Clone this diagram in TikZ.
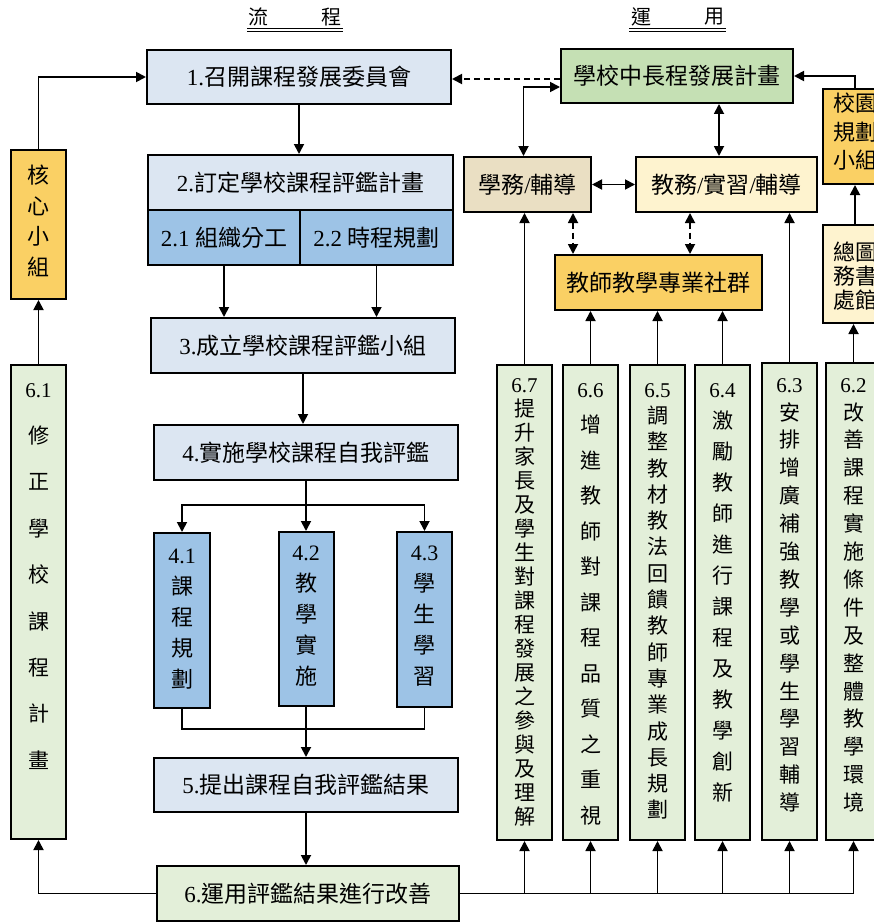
\documentclass[tikz,border=0pt]{standalone}
\usepackage{fontspec}
\setmainfont{Liberation Serif}
\newfontfamily\cjk{Noto Sans CJK TC}
\newfontfamily\dg{Liberation Serif}
\usetikzlibrary{arrows.meta}
\ExplSyntaxOn
\NewDocumentCommand\vstack{m}{
  \seq_clear:N \l_tmpa_seq
  \tl_map_inline:nn {#1} { \seq_put_right:Nn \l_tmpa_seq {##1} }
  \seq_use:Nn \l_tmpa_seq { \\ }
}
\ExplSyntaxOff
\definecolor{lblue}{HTML}{DCE6F2}
\definecolor{mblue}{HTML}{9DC3E6}
\definecolor{lgreen}{HTML}{E3EFD9}
\definecolor{dgreen}{HTML}{C5E0B4}
\definecolor{gold}{HTML}{FAD064}
\definecolor{tan}{HTML}{EADFC3}
\definecolor{cream}{HTML}{FEF3CF}
\newcommand\htext{\cjk\fontsize{23}{27}\selectfont}
\tikzset{
  box/.style={draw=black, line width=2pt, inner sep=0pt, font=\htext, align=center},
  vtext/.style={font={\cjk\fontsize{21}{#1}\selectfont\lineskiplimit=-\maxdimen}, align=center, inner sep=0pt, anchor=north},
  vtextc/.style={font={\cjk\fontsize{22}{#1}\selectfont\lineskiplimit=-\maxdimen}, align=center, inner sep=0pt},
  hdr/.style={font={\cjk\fontsize{20}{24}\selectfont}, inner sep=0pt},
  conn/.style={line width=1.8pt},
  arr/.style={line width=1.8pt, -{Triangle[length=10pt,width=10pt]}},
  darr/.style={line width=1.8pt, {Triangle[length=10pt,width=10pt]}-{Triangle[length=10pt,width=10pt]}},
  dsh/.style={dash pattern=on 6pt off 4pt}
}
\begin{document}
\begin{tikzpicture}[x=1pt,y=-1pt]
\useasboundingbox (0,0) rectangle (874,923);
\clip (0,0) rectangle (874,923);
\fill[white] (0,0) rectangle (874,923);

% headers
\node[hdr] (h1a) at (258,17) {流};
\node[hdr] (h1b) at (331,17) {程};
\draw[line width=1.5pt] (247,28.5) -- (343,28.5);
\draw[line width=0.8pt] (247,31.5) -- (343,31.5);
\node[hdr] (h2a) at (641,17) {運};
\node[hdr] (h2b) at (714,17) {用};
\draw[line width=1.5pt] (629,28.5) -- (726,28.5);
\draw[line width=0.8pt] (629,31.5) -- (726,31.5);

% main flow
\node[box, fill=lblue, minimum width=304, minimum height=54] (b1) at (299,77) {{\dg 1.}召開課程發展委員會};
\node[box, fill=lblue, minimum width=305, minimum height=55] (b2) at (300.5,182.5) {{\dg 2.}訂定學校課程評鑑計畫};
\node[box, fill=mblue, minimum width=152, minimum height=55] (b21) at (224,237.5) {{\dg 2.1 }組織分工};
\node[box, fill=mblue, minimum width=153, minimum height=55] (b22) at (376.5,237.5) {{\dg 2.2 }時程規劃};
\node[box, fill=lblue, minimum width=304, minimum height=55] (b3) at (303,345.5) {{\dg 3.}成立學校課程評鑑小組};
\node[box, fill=lblue, minimum width=304, minimum height=55] (b4) at (306,452.5) {{\dg 4.}實施學校課程自我評鑑};

\node[box, fill=mblue, minimum width=56, minimum height=175] (b41) at (182,620.5) {};
\node[vtext=31, font={\cjk\fontsize{22}{31}\selectfont\lineskiplimit=-\maxdimen}] (t41) at (182,549) {{\dg 4.1}\\\vstack{課程規劃}};
\node[box, fill=mblue, minimum width=55, minimum height=174] (b42) at (306,619) {};
\node[vtext=31, font={\cjk\fontsize{22}{31}\selectfont\lineskiplimit=-\maxdimen}] (t42) at (306,546) {{\dg 4.2}\\\vstack{教學實施}};
\node[box, fill=mblue, minimum width=55, minimum height=175] (b43) at (424.5,619.5) {};
\node[vtext=31, font={\cjk\fontsize{22}{31}\selectfont\lineskiplimit=-\maxdimen}] (t43) at (424.5,546) {{\dg 4.3}\\\vstack{學生學習}};

\node[box, fill=lblue, minimum width=304, minimum height=54] (b5) at (306,785) {{\dg 5.}提出課程自我評鑑結果};
\node[box, fill=lgreen, minimum width=302, minimum height=55] (b6) at (308,893.5) {{\dg 6.}運用評鑑結果進行改善};

% left column
\node[box, fill=gold, minimum width=55, minimum height=149] (core) at (38.5,224.5) {};
\node[vtextc=30.7] (tcore) at (38.5,221) {\vstack{核心小組}};
\node[box, fill=lgreen, minimum width=55, minimum height=474] (b61) at (38.5,602) {};
\node[vtext=46.4] (t61) at (38.5,383) {{\dg 6.1}\\\vstack{修正學校課程計畫}};

% right side
\node[box, fill=dgreen, minimum width=232, minimum height=54] (plan) at (677,76) {學校中長程發展計畫};
\node[box, fill=tan, minimum width=127, minimum height=55] (xw) at (527.5,184.5) {學務{\dg /}輔導};
\node[box, fill=cream, minimum width=181, minimum height=55] (jw) at (726.5,184.5) {教務{\dg /}實習{\dg /}輔導};
\node[box, fill=gold, minimum width=207, minimum height=55] (plc) at (658.5,282.5) {教師教學專業社群};
\node[box, fill=gold, minimum width=64, minimum height=95] (campus) at (855,136.5) {};
\node[vtextc=28.5] (tcampus) at (855,132) {校園\\規劃\\小組};
\node[box, fill=cream, minimum width=64, minimum height=98] (gen) at (855,274) {};
\node[vtextc=24] (tgen) at (855,276) {總圖\\務書\\處館};

\node[box, fill=lgreen, minimum width=55, minimum height=475] (b67) at (524.5,602.5) {};
\node[vtext=24] (t67) at (524.5,378) {{\dg 6.7}\\\vstack{提升家長及學生對課程發展之參與及理解}};
\node[box, fill=lgreen, minimum width=55, minimum height=475] (b66) at (590.5,602.5) {};
\node[vtext=35.5] (t66) at (590.5,383) {{\dg 6.6}\\\vstack{增進教師對課程品質之重視}};
\node[box, fill=lgreen, minimum width=55, minimum height=475] (b65) at (657.5,602.5) {};
\node[vtext=26.3] (t65) at (657.5,383) {{\dg 6.5}\\\vstack{調整教材教法回饋教師專業成長規劃}};
\node[box, fill=lgreen, minimum width=55, minimum height=475] (b64) at (722.5,602.5) {};
\node[vtext=31] (t64) at (722.5,383) {{\dg 6.4}\\\vstack{激勵教師進行課程及教學創新}};
\node[box, fill=lgreen, minimum width=55, minimum height=477] (b63) at (789.5,601.5) {};
\node[vtext=27.9] (t63) at (789.5,378) {{\dg 6.3}\\\vstack{安排增廣補強教學或學生學習輔導}};
\node[box, fill=lgreen, minimum width=55, minimum height=477] (b62) at (853.5,601.5) {};
\node[vtext=27.9] (t62) at (853.5,378) {{\dg 6.2}\\\vstack{改善課程實施條件及整體教學環境}};

% coordinates
\coordinate (ybr) at (0,505);
\coordinate (yj) at (0,729);
\coordinate (pw1) at ([yshift=-3pt]plan.west);
\coordinate (pw2) at ([yshift=-11pt]plan.west);

% main flow connectors
\draw[arr] (b1.south) -- (b1.south |- b2.north);
\draw[arr] (b21.south) -- (b21.south |- b3.north);
\draw[arr] (b22.south) -- (b22.south |- b3.north);
\draw[arr] (b3.south) -- (b3.south |- b4.north);
\draw[conn] (b4.south) -- (b4.south |- ybr);
\draw[arr] (b4.south |- ybr) -| (b41.north);
\draw[arr] (b4.south |- ybr) -| (b43.north);
\draw[arr] (b4.south |- ybr) -- (b42.north);
\draw[conn] (b41.south) -- (b41.south |- yj) -- (b43.south |- yj) -- (b43.south);
\draw[arr] (b42.south) -- (b42.south |- b5.north);
\draw[arr] (b5.south) -- (b5.south |- b6.north);

% left loop
\draw[arr] (b6.west) -| (b61.south);
\draw[arr] (b61.north) -- (core.south);
\draw[arr] (core.north) |- (b1.west);

% right connectors
\draw[arr, dsh] (pw1) -- (pw1 -| b1.east);
\draw[darr] ([xshift=-4pt]xw.north) |- (pw2);
\draw[darr] ([xshift=42pt]plan.south) -- ([xshift=42pt]plan.south |- jw.north);
\draw[darr] (xw.east) -- (jw.west);
\draw[darr, dsh] ([xshift=45.5pt]xw.south) -- ([xshift=45.5pt]xw.south |- plc.north);
\draw[darr, dsh] ([xshift=-36.5pt]jw.south) -- ([xshift=-36.5pt]jw.south |- plc.north);
\draw[arr] (campus.north) |- (plan.east);
\draw[arr] (gen.north) -- (gen.north |- campus.south);
\draw[arr] (b62.north) -- (b62.north |- gen.south);
\draw[arr] (b67.north) -- (b67.north |- xw.south);
\draw[arr] (b66.north) -- (b66.north |- plc.south);
\draw[arr] (b65.north) -- (b65.north |- plc.south);
\draw[arr] (b64.north) -- (b64.north |- plc.south);
\draw[arr] (b63.north) -- (b63.north |- jw.south);

% bottom bus
\draw[conn] (b6.east) -- (b6.east -| b62.south);
\foreach \n in {67,66,65,64,63,62}
  \draw[arr] (b6.east -| b\n.south) -- (b\n.south);
\end{tikzpicture}
\end{document}
